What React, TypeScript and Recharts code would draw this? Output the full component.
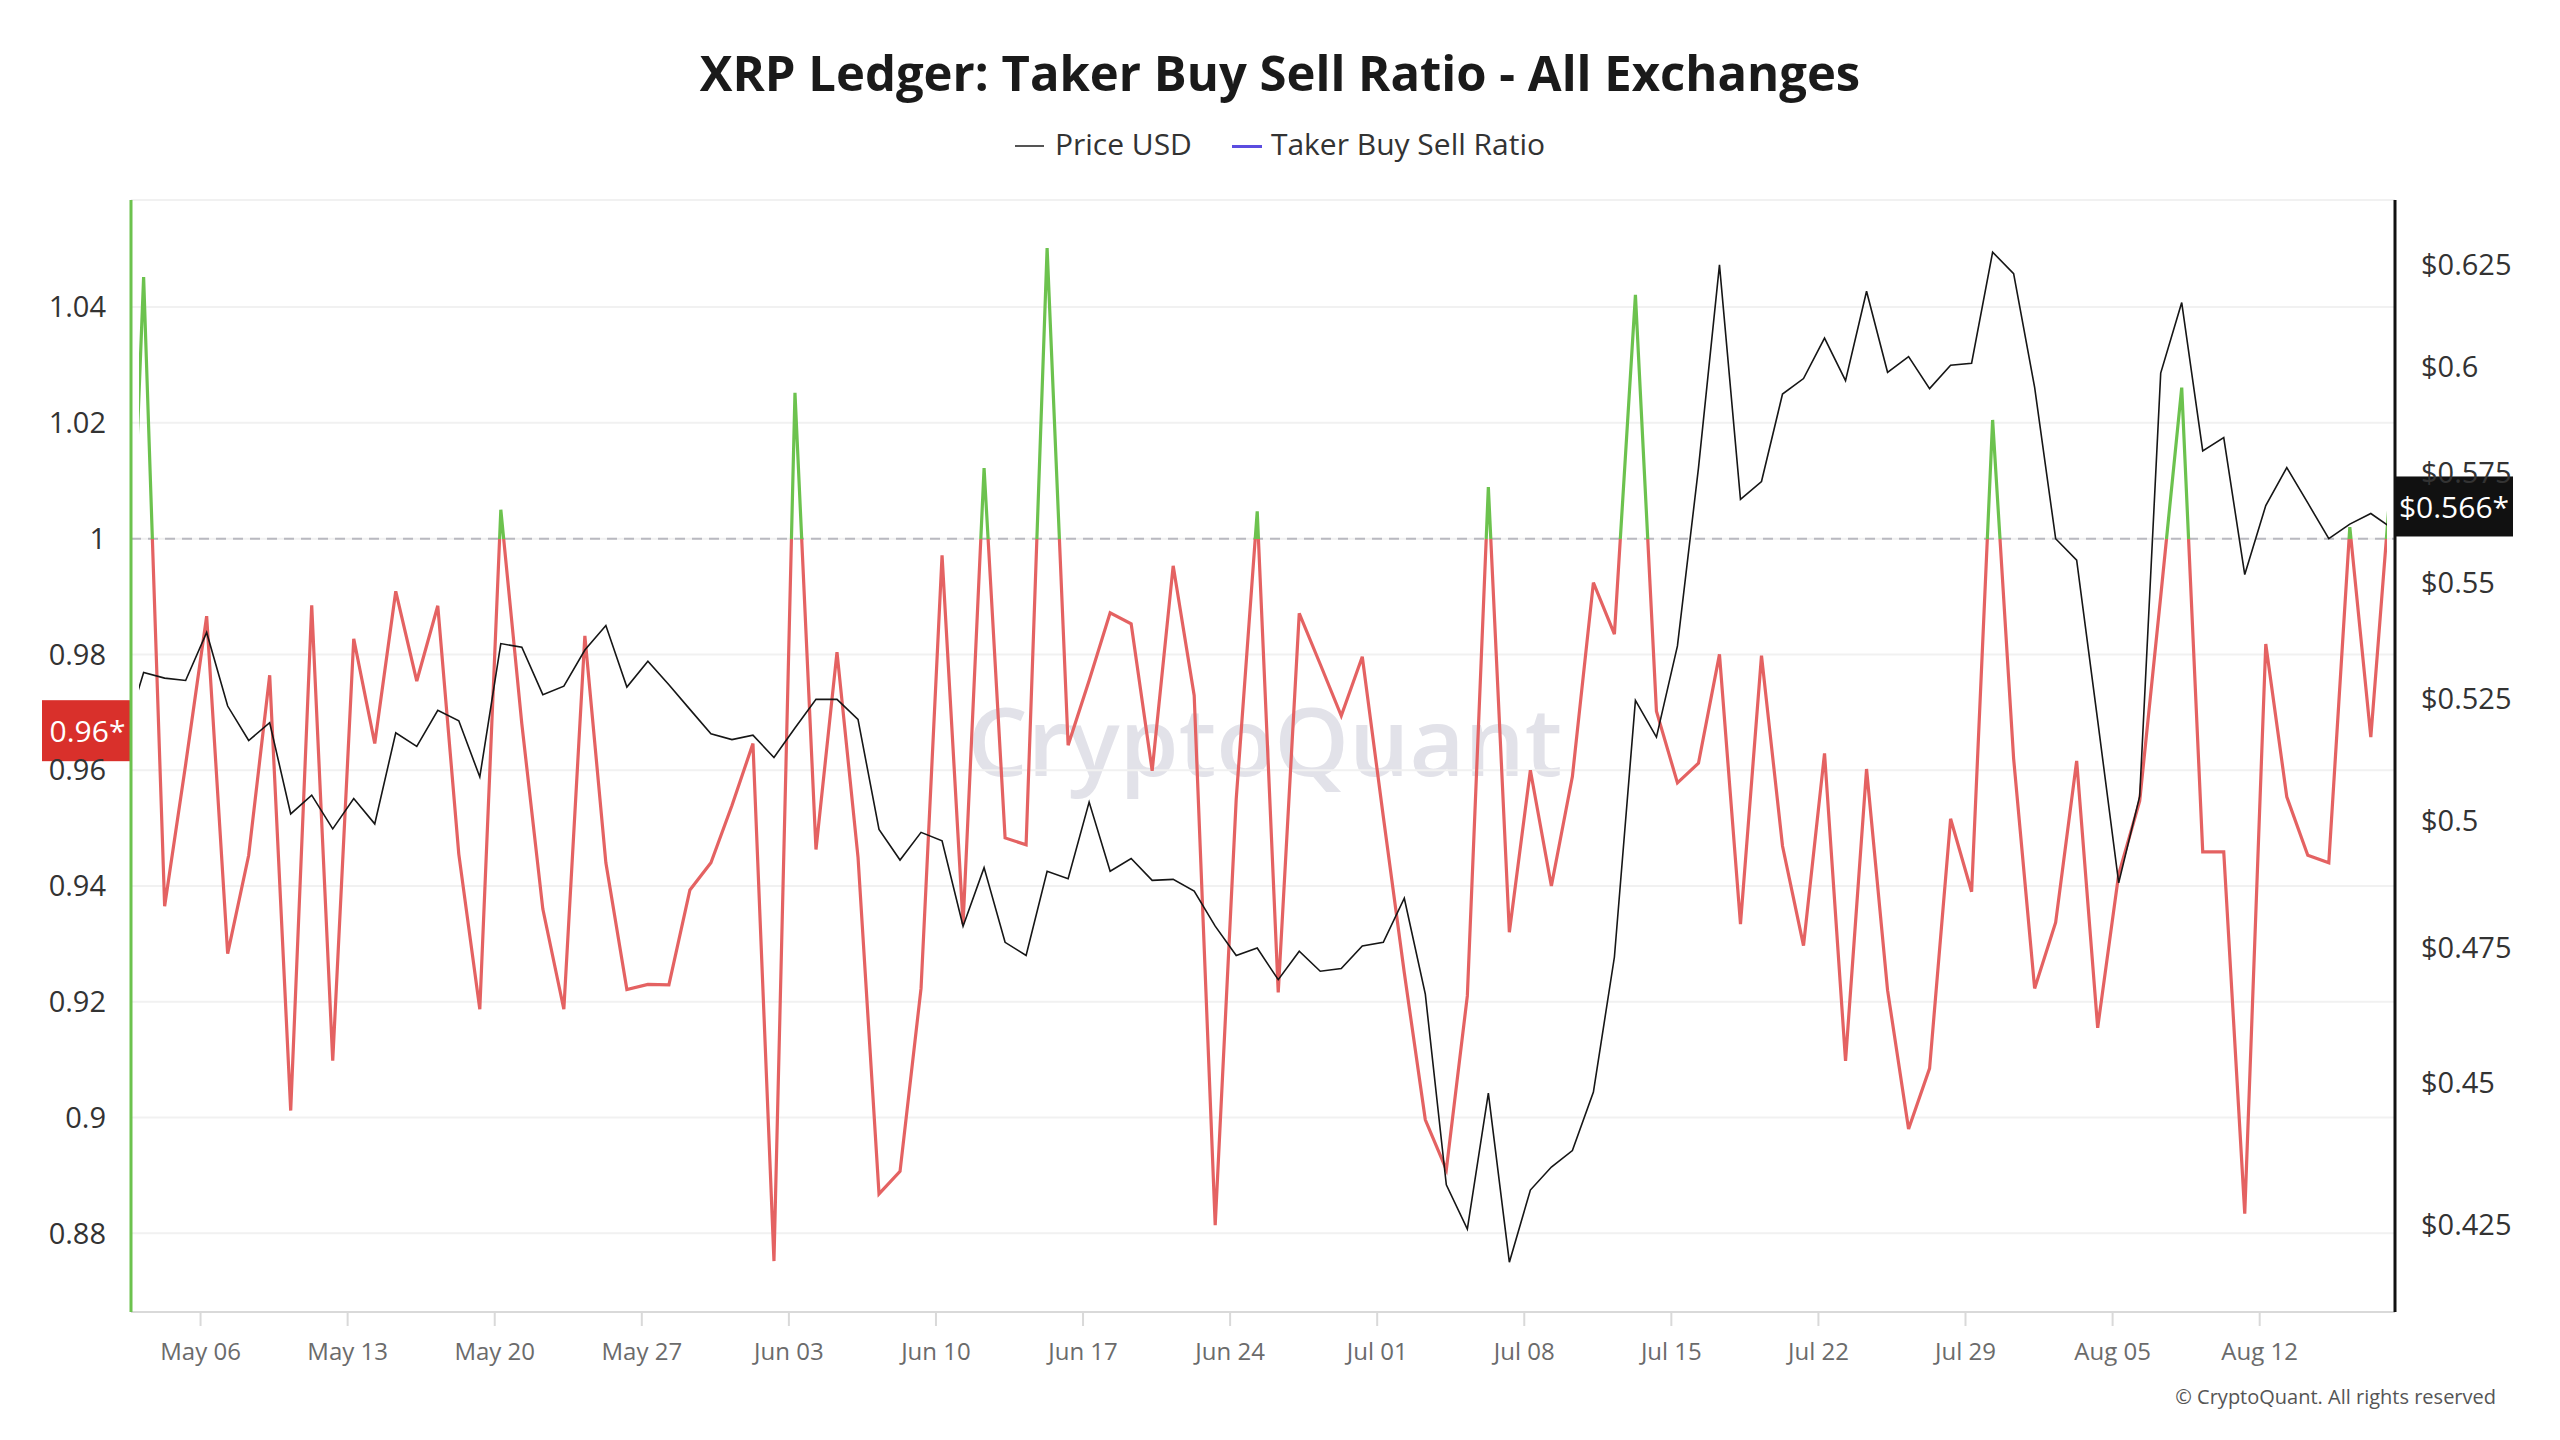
import React from "react";
import { LineChart, Line, XAxis, YAxis, CartesianGrid, ReferenceLine } from "recharts";

// ---------- data ----------
const START_DATE = "2024-05-02"; // first (partly clipped) daily point
const FIRST_TICK_DATE = "2024-05-06";
const CURRENT_DATE = "2024-08-17"; // last fully visible point

const RATIO = [
  0.953, 1.0452, 0.9365, 0.961, 0.9866, 0.9283, 0.9453, 0.9764, 0.9012, 0.9885,
  0.9098, 0.9827, 0.9646, 0.9909, 0.9754, 0.9884, 0.9455, 0.9187, 1.005, 0.968,
  0.936, 0.9187, 0.9832, 0.944, 0.9221, 0.923, 0.9229, 0.9393, 0.944, 0.9539,
  0.9646, 0.8752, 1.0252, 0.9463, 0.9804, 0.945, 0.8868, 0.8907, 0.9223, 0.9971,
  0.9334, 1.0122, 0.9483, 0.9471, 1.0502, 0.9643, 0.9755, 0.9872, 0.9853, 0.9599,
  0.9953, 0.9729, 0.8814, 0.955, 1.0047, 0.9216, 0.9871, 0.9783, 0.9694, 0.9796,
  0.952, 0.925, 0.8996, 0.891, 0.921, 1.0089, 0.932, 0.96, 0.94, 0.9589,
  0.9924, 0.9835, 1.0421, 0.9702, 0.9578, 0.9612, 0.98, 0.9334, 0.9798, 0.9469,
  0.9297, 0.9629, 0.9098, 0.9602, 0.922, 0.898, 0.9085, 0.9516, 0.939, 1.0205,
  0.962, 0.9223, 0.9337, 0.9616, 0.9155, 0.942, 0.9547, 0.99, 1.0261, 0.9459,
  0.9459, 0.8834, 0.9818, 0.9554, 0.9453, 0.944, 1.002, 0.9657, 1.012,
];

const PRICE = [
  0.516, 0.5306, 0.5294, 0.5289, 0.5392, 0.5235, 0.5163, 0.52, 0.5013, 0.5051,
  0.4983, 0.5044, 0.4993, 0.5179, 0.5151, 0.5226, 0.5204, 0.5088, 0.5368, 0.536,
  0.5259, 0.5277, 0.5354, 0.5407, 0.5275, 0.533, 0.528, 0.5228, 0.5177, 0.5165,
  0.5174, 0.5128, 0.5189, 0.5249, 0.5249, 0.5207, 0.4982, 0.4921, 0.4976, 0.4959,
  0.4792, 0.4906, 0.4761, 0.4736, 0.4899, 0.4884, 0.5037, 0.4899, 0.4924, 0.4881,
  0.4883, 0.486, 0.4792, 0.4736, 0.475, 0.469, 0.4744, 0.4706, 0.4711, 0.4754,
  0.4761, 0.4846, 0.4663, 0.4319, 0.4243, 0.4481, 0.4187, 0.431, 0.435, 0.4379,
  0.4483, 0.4733, 0.5247, 0.517, 0.5363, 0.576, 0.625, 0.5688, 0.5729, 0.5934,
  0.5971, 0.6069, 0.5966, 0.6184, 0.5986, 0.6024, 0.5947, 0.6003, 0.6008, 0.6282,
  0.6228, 0.595, 0.5599, 0.5551, 0.5205, 0.4876, 0.5049, 0.5984, 0.6156, 0.58,
  0.5831, 0.5519, 0.5674, 0.5761, 0.568, 0.5599, 0.5632, 0.5656, 0.5623,
];

const X_TICK_LABELS = [
  "May 06", "May 13", "May 20", "May 27", "Jun 03", "Jun 10", "Jun 17", "Jun 24",
  "Jul 01", "Jul 08", "Jul 15", "Jul 22", "Jul 29", "Aug 05", "Aug 12",
];
const LEFT_TICKS = [0.88, 0.9, 0.92, 0.94, 0.96, 0.98, 1, 1.02, 1.04];
const RIGHT_TICKS = [0.425, 0.45, 0.475, 0.5, 0.525, 0.55, 0.575, 0.6, 0.625];

// visible window (days relative to first tick date) and axis ranges
const X_DOMAIN: [number, number] = [-3.22, 103.77];
const LEFT_DOMAIN: [number, number] = [0.8664, 1.0585];
const RIGHT_DOMAIN: [number, number] = [0.4104, 0.6415];
const TICK_SHIFT = -0.29; // ticks at local midnight, data at UTC midnight

// ---------- derived ----------
const DAY_MS = 86400000;
const t0 = Date.parse(FIRST_TICK_DATE + "T00:00:00Z");
const tStart = Date.parse(START_DATE + "T00:00:00Z");
const rows = RATIO.map((ratio, i) => ({
  day: (tStart - t0) / DAY_MS + i,
  ratio,
  price: PRICE[i],
}));
const xTicks = X_TICK_LABELS.map((_, k) => k * 7 + TICK_SHIFT);
const curIdx = (Date.parse(CURRENT_DATE + "T00:00:00Z") - tStart) / DAY_MS;
const curRatio = RATIO[curIdx];
const curPrice = PRICE[curIdx];
const ratioTag = (Math.floor(curRatio * 100) / 100).toFixed(2) + "*";
const priceTag = "$" + curPrice.toFixed(3) + "*";

const rMax = Math.max(...RATIO);
const rMin = Math.min(...RATIO);
const split = (rMax - 1) / (rMax - rMin);

const GREEN = "#6cc24e";
const RED = "#e46262";
const FONT = "'Open Sans', 'Noto Sans', sans-serif";

function LeftTag(props: any) {
  const vb = props.viewBox || {};
  const left = Math.min(vb.x, vb.x + (vb.width || 0));
  const y = vb.y;
  const w = 89;
  return (
    <g>
      <rect x={left - w} y={y - 37} width={w} height={61} fill="#d9302b" />
      <text x={left - w / 2 + 1} y={y - 7} textAnchor="middle" dominantBaseline="central"
        fontFamily={FONT} fontSize={30} fill="#ffffff">{props.text}</text>
    </g>
  );
}

function RightTag(props: any) {
  const vb = props.viewBox || {};
  const right = Math.max(vb.x, vb.x + (vb.width || 0));
  const y = vb.y;
  const w = 118;
  return (
    <g>
      <rect x={right} y={y - 37} width={w} height={60} fill="#111111" />
      <text x={right + w / 2} y={y - 7} textAnchor="middle" dominantBaseline="central"
        fontFamily={FONT} fontSize={30} fill="#ffffff">{props.text}</text>
    </g>
  );
}

export default function App() {
  return (
    <div style={{ position: "absolute", left: 0, top: 0, width: 2560, height: 1440, background: "#fff", overflow: "hidden" }}>
      <svg width={2560} height={1440} style={{ position: "absolute", left: 0, top: 0 }}>
        <text x={1265} y={776} textAnchor="middle" fontFamily={FONT} fontWeight={600} fontSize={95} fill="#e2e2e9">
          CryptoQuant
        </text>
      </svg>
      <div style={{ position: "absolute", left: 0, top: 0 }}>
        <LineChart width={2560} height={1440} data={rows} margin={{ top: 200, right: 0, bottom: 0, left: 0 }}>
          <defs>
            <linearGradient id="ratioStroke" x1="0" y1="0" x2="0" y2="1">
              <stop offset={0} stopColor={GREEN} />
              <stop offset={split} stopColor={GREEN} />
              <stop offset={split} stopColor={RED} />
              <stop offset={1} stopColor={RED} />
            </linearGradient>
          </defs>
          <CartesianGrid yAxisId="left" vertical={false} stroke="#f1f1f1" strokeWidth={2} />
          <XAxis
            dataKey="day"
            type="number"
            domain={X_DOMAIN}
            allowDataOverflow
            ticks={xTicks}
            interval={0}
            tickFormatter={(_v: number, i: number) => X_TICK_LABELS[i]}
            padding={{ left: 8, right: 8 }}
            height={128}
            axisLine={{ stroke: "#d9d9d9", strokeWidth: 2 }}
            tickLine={{ stroke: "#d9d9d9", strokeWidth: 2 }}
            tickSize={14}
            tickMargin={17}
            tick={{ fill: "#6b6b6b", fontSize: 24, fontFamily: FONT }}
          />
          <YAxis
            yAxisId="left"
            orientation="left"
            width={131}
            domain={LEFT_DOMAIN}
            allowDataOverflow
            ticks={LEFT_TICKS}
            interval={0}
            axisLine={{ stroke: GREEN, strokeWidth: 3 }}
            tickLine={false}
            tickSize={0}
            tickMargin={25}
            tick={{ fill: "#333", fontSize: 29, fontFamily: FONT }}
          />
          <YAxis
            yAxisId="right"
            orientation="right"
            width={165}
            scale="log"
            domain={RIGHT_DOMAIN}
            allowDataOverflow
            ticks={RIGHT_TICKS}
            interval={0}
            tickFormatter={(v: number) => "$" + v}
            axisLine={{ stroke: "#111", strokeWidth: 3 }}
            tickLine={false}
            tickSize={0}
            tickMargin={26}
            tick={{ fill: "#333", fontSize: 29, fontFamily: FONT }}
          />
          <ReferenceLine yAxisId="left" y={1} stroke="#b9b9c0" strokeWidth={2} strokeDasharray="10 7" />
          <Line
            yAxisId="left"
            dataKey="ratio"
            type="linear"
            stroke="url(#ratioStroke)"
            strokeWidth={3.2}
            dot={false}
            activeDot={false}
            isAnimationActive={false}
          />
          <Line
            yAxisId="right"
            dataKey="price"
            type="linear"
            stroke="#161616"
            strokeWidth={1.6}
            dot={false}
            activeDot={false}
            isAnimationActive={false}
          />
          <ReferenceLine yAxisId="left" y={curRatio} stroke="none" label={<LeftTag text={ratioTag} />} />
          <ReferenceLine yAxisId="right" y={curPrice} stroke="none" label={<RightTag text={priceTag} />} />
        </LineChart>
      </div>
      <svg width={2560} height={1440} style={{ position: "absolute", left: 0, top: 0, pointerEvents: "none" }}>
        <text x={1280} y={91} textAnchor="middle" fontFamily={FONT} fontWeight={700} fontSize={49} fill="#1a1a1a">
          XRP Ledger: Taker Buy Sell Ratio - All Exchanges
        </text>
        <text x={2496} y={1404} textAnchor="end" fontFamily={FONT} fontSize={20} fill="#555">
          © CryptoQuant. All rights reserved
        </text>
      </svg>
      <div
        style={{
          position: "absolute", left: 0, top: 124, width: 2560, height: 40,
          display: "flex", justifyContent: "center", alignItems: "center", gap: 40,
          fontFamily: FONT, fontSize: 30, color: "#333", lineHeight: "40px",
        }}
      >
        <div style={{ display: "flex", alignItems: "center" }}>
          <span style={{ display: "inline-block", width: 29, height: 2, background: "#555", marginRight: 11, marginTop: 4 }} />
          <span>Price USD</span>
        </div>
        <div style={{ display: "flex", alignItems: "center" }}>
          <span style={{ display: "inline-block", width: 30, height: 3, background: "#5b4de0", marginRight: 9, marginTop: 4 }} />
          <span>Taker Buy Sell Ratio</span>
        </div>
      </div>
    </div>
  );
}
